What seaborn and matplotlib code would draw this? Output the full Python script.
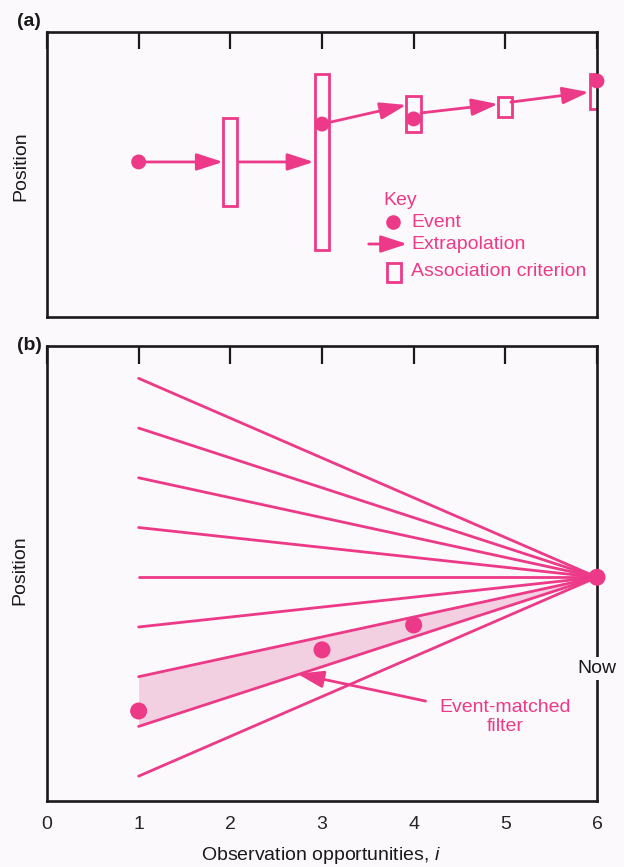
import numpy as np
import pandas as pd
import matplotlib
matplotlib.use("Agg")
import matplotlib.pyplot as plt
from matplotlib.patches import Rectangle
import seaborn as sns

# Panel (a): events, extrapolation arrows, association boxes
event_x = [1, 3, 4, 6]
event_y = [5.44, 6.77, 6.95, 8.28]
box_x = [2, 3, 4, 5, 6]
box_low = [3.89, 2.35, 6.49, 7.02, 7.30]
box_high = [6.98, 8.53, 7.75, 7.72, 8.53]
arrow_from = [(1.0, 5.44), (2.09, 5.44), (3.0, 6.77), (4.08, 7.16), (5.06, 7.54)]
arrow_to = [(1.92, 5.44), (2.91, 5.44), (3.92, 7.44), (4.92, 7.47), (5.91, 7.89)]

# Panel (b): fan of filter tracks converging on "now"
fan_start = [0.5, 1.5, 2.5, 3.5, 4.5, 5.5, 6.5, 7.5, 8.5]
fan_x = [1, 6]
now_y = 4.5
matched = (1, 2)  # indices of the two tracks bounding the matched filter
obs_x = [1, 3, 4]
obs_y = [1.81, 3.04, 3.54]
ticks = [0, 1, 2, 3, 4, 5, 6]

PINK = "#ec3a88"
FILL = "#f2d0e2"
BG = "#fcf9fc"
INK = "#1a1a1a"
HEAD = "-|>,head_length=0.8,head_width=0.26"

sns.set_style("white")
plt.rcParams["font.family"] = ["Liberation Sans", "DejaVu Sans"]
plt.rcParams["mathtext.fontset"] = "custom"
plt.rcParams["mathtext.it"] = "Liberation Sans:italic"
plt.rcParams["mathtext.rm"] = "Liberation Sans"

fig = plt.figure(figsize=(6.24, 8.67), dpi=100, facecolor=BG)
ax_a = fig.add_axes([0.0753, 0.6344, 0.8814, 0.3287])
ax_b = fig.add_axes([0.0753, 0.0761, 0.8814, 0.5248])


def arrow(ax, p0, p1, z=3):
    ax.annotate("", xy=p1, xytext=p0,
                arrowprops=dict(arrowstyle=HEAD, color=PINK, lw=2.0,
                                mutation_scale=20, shrinkA=0, shrinkB=0),
                zorder=z)


# ---- panel (a)
for x, lo, hi in zip(box_x, box_low, box_high):
    ax_a.add_patch(Rectangle((x - 0.078, lo), 0.156, hi - lo, fill=False,
                             edgecolor=PINK, lw=2.0, zorder=3))
for p0, p1 in zip(arrow_from, arrow_to):
    arrow(ax_a, p0, p1)
sns.scatterplot(x=event_x, y=event_y, ax=ax_a, color=PINK, s=115,
                edgecolor="none", zorder=5, clip_on=False, legend=False)

# key
kw = dict(color=PINK, fontsize=14, va="center", ha="left")
ax_a.text(3.67, 4.1, "Key", **kw)
ax_a.plot([3.78], [3.33], "o", color=PINK, ms=10.5, mec="none")
ax_a.text(3.97, 3.33, "Event", **kw)
arrow(ax_a, (3.51, 2.56), (3.93, 2.56))
ax_a.text(3.97, 2.56, "Extrapolation", **kw)
ax_a.add_patch(Rectangle((3.71, 1.23), 0.15, 0.66, fill=False,
                         edgecolor=PINK, lw=2.0))
ax_a.text(3.97, 1.58, "Association criterion", **kw)

# ---- panel (b)
rows = []
for k, y0 in enumerate(fan_start):
    rows.append({"track": k, "x": fan_x[0], "y": y0})
    rows.append({"track": k, "x": fan_x[1], "y": now_y})
fan = pd.DataFrame(rows)
sns.lineplot(data=fan, x="x", y="y", units="track", estimator=None,
             color=PINK, lw=2.0, ax=ax_b, zorder=3)

xs = np.linspace(fan_x[0], fan_x[1], 50)
frac = (xs - fan_x[0]) / (fan_x[1] - fan_x[0])
lo = fan_start[matched[0]] + (now_y - fan_start[matched[0]]) * frac
hi = fan_start[matched[1]] + (now_y - fan_start[matched[1]]) * frac
ax_b.fill_between(xs, lo, hi, color=FILL, lw=0, zorder=2)

sns.scatterplot(x=obs_x + [6], y=obs_y + [now_y], ax=ax_b, color=PINK, s=150,
                edgecolor="none", zorder=5, clip_on=False, legend=False)

arrow(ax_b, (4.13, 2.01), (2.73, 2.56), z=4)
ax_b.text(5.0, 1.69, "Event-matched\nfilter", color=PINK, fontsize=14,
          ha="center", va="center", linespacing=1.2)
ax_b.text(6.0, 2.66, "Now", color=INK, fontsize=14, ha="center", va="center",
          zorder=6, clip_on=False,
          bbox=dict(boxstyle="square,pad=0.15", fc=BG, ec="none"))

# shared axis styling
for ax in (ax_a, ax_b):
    ax.set_facecolor(BG)
    ax.set_xlim(0, 6)
    ax.set_xticks(ticks)
    ax.set_yticks([])
    ax.tick_params(axis="x", direction="in", top=True, length=13, width=1.6,
                   color=INK, labelsize=14, pad=11)
    for s in ax.spines.values():
        s.set_linewidth(1.9)
        s.set_color(INK)
        s.set_zorder(4)
    ax.set_xlabel("")
    ax.set_ylabel("")
ax_a.set_ylim(0, 10)
ax_a.tick_params(axis="x", labelbottom=False, length=12)
ax_b.set_ylim(0, 9.15)
ax_b.set_xticklabels([str(t) for t in ticks])

fig.text(321 / 624, 1 - 855 / 867, "Observation opportunities, $i$",
         fontsize=14, ha="center", va="center", color=INK)

# panel letters and y labels
fig.text(29 / 624, 1 - 22 / 867, "(a)", fontsize=14, fontweight="bold",
         ha="center", va="center", color=INK)
fig.text(29 / 624, 1 - 345 / 867, "(b)", fontsize=14, fontweight="bold",
         ha="center", va="center", color=INK)
fig.text(21 / 624, 1 - 166 / 867, "Position", rotation=90, fontsize=14,
         ha="center", va="center", color=INK)
fig.text(20 / 624, 1 - 570 / 867, "Position", rotation=90, fontsize=14,
         ha="center", va="center", color=INK)

fig.savefig("out.png", dpi=100, facecolor=BG)
